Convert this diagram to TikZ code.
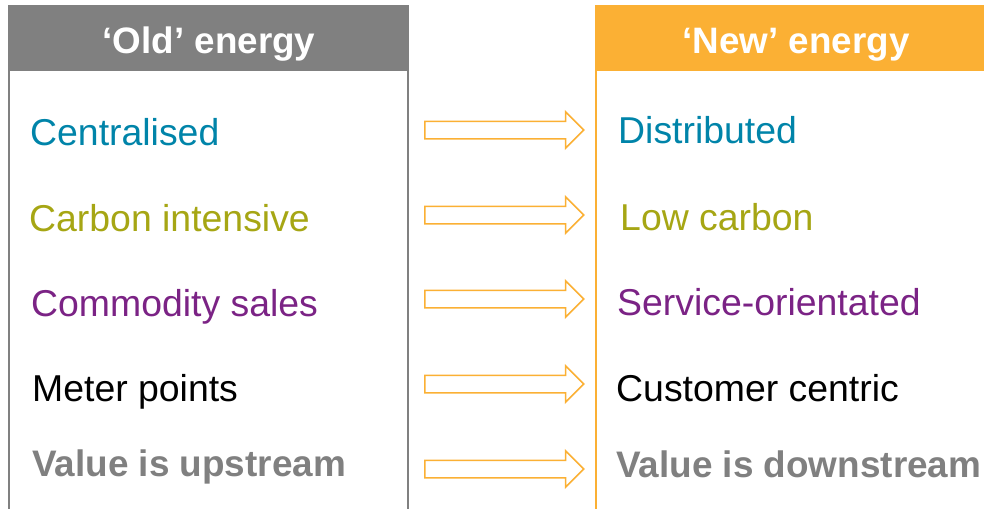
\documentclass[tikz,border=0pt]{standalone}
\usepackage{fontspec}
\setmainfont{Liberation Sans}
\usetikzlibrary{shapes.arrows}
\definecolor{oldgrey}{RGB}{128,128,128}
\definecolor{neworange}{RGB}{251,176,52}
\definecolor{tealtext}{RGB}{0,132,169}
\definecolor{olivetext}{RGB}{166,166,20}
\definecolor{purpletext}{RGB}{123,35,133}
\begin{document}
\begin{tikzpicture}[x=1pt, y=-1pt,
  item node/.style={anchor=base west, inner sep=0pt, font=\fontsize{37.4}{41}\selectfont},
  value node/.style={text=oldgrey, font=\fontsize{36.9}{41}\selectfont\bfseries},
  head node/.style={anchor=base, inner sep=0pt, text=white, font=\fontsize{36.8}{40}\selectfont\bfseries},
  arrow node/.style={single arrow, anchor=tail, draw=neworange, fill=white, line width=1.5pt, inner xsep=0pt, inner ysep=8pt,
    minimum height=159pt, minimum width=35pt, single arrow head extend=9.5pt}]
\useasboundingbox (0,0) rectangle (984,509);
% headers
\fill[oldgrey] (8,5) rectangle (409,71);
\fill[neworange] (595,5) rectangle (1000,71);
\draw[oldgrey, line width=1.5pt] (9,71) -- (9,509);
\draw[oldgrey, line width=1.5pt] (408,71) -- (408,509);
\draw[neworange, line width=2pt] (596,71) -- (596,509);
\node[head node] (oldh) at (209,53) {‘Old’ energy};
\node[head node] (newh) at (796,53) {‘New’ energy};
% old side
\begin{scope}[every node/.style={item node}]
\node[text=tealtext] (o1) at (30,145) {Centralised};
\node[text=olivetext] (o2) at (29,231) {Carbon intensive};
\node[text=purpletext] (o3) at (31,316) {Commodity sales};
\node[text=black] (o4) at (32,401) {Meter points};
\node[value node] (o5) at (32,476) {Value is upstream};
%\node (o) at (,) {};
\end{scope}
% new side
\begin{scope}[every node/.style={item node}]
\node[text=tealtext] (n1) at (618,143) {Distributed};
\node[text=olivetext] (n2) at (620,230) {Low carbon};
\node[text=purpletext] (n3) at (617,315) {Service-orientated};
\node[text=black] (n4) at (616,401) {Customer centric};
\node[value node] (n5) at (616,477) {Value is downstream};
\end{scope}
% arrows
\node[arrow node] (a1) at (424,130) {};
\node[arrow node] (a2) at (424,215) {};
\node[arrow node] (a3) at (424,299) {};
\node[arrow node] (a4) at (424,384) {};
\node[arrow node] (a5) at (424,469) {};
\end{tikzpicture}
\end{document}
